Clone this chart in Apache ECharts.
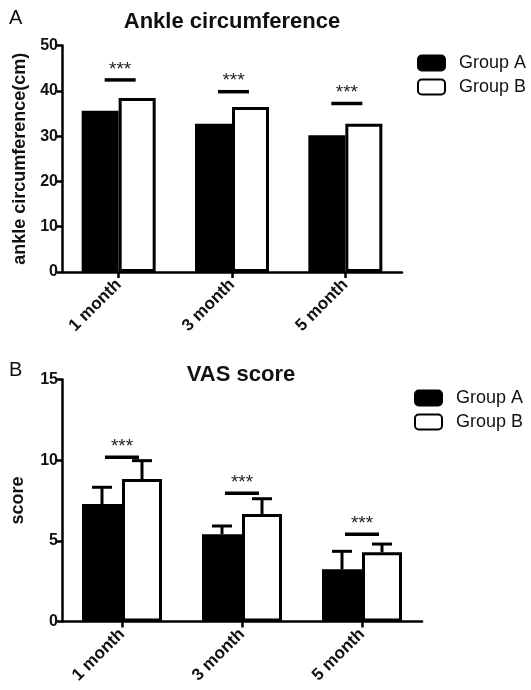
<!DOCTYPE html>
<html><head><meta charset="utf-8">
<script src="https://cdn.jsdelivr.net/npm/echarts@6/dist/echarts.min.js"></script>
<style>html,body{margin:0;padding:0;background:#fff}#c{width:531px;height:690px}</style>
</head><body><div id="c"></div>
<script>
// ---- data ----
const categories = ['1 month', '3 month', '5 month'];
const seriesNames = ['Group A', 'Group B'];
// Panel A: ankle circumference (cm)
const ankleA = [35.6, 32.7, 30.2];
const ankleB = [38.4, 36.4, 32.7];
const ankleSig = [42.4, 39.8, 37.2];      // height of significance bars
const ankleYTicks = [0, 10, 20, 30, 40, 50];
// Panel B: VAS score
const vasA = [7.28, 5.41, 3.24];
const vasB = [8.83, 6.66, 4.29];
const vasAErr = [1.04, 0.51, 1.11];
const vasBErr = [1.14, 0.95, 0.51];
const vasSig = [10.18, 7.95, 5.41];
const vasYTicks = [0, 5, 10, 15];
const sigLabel = '***';

// ---- style ----
const F = '"Liberation Sans", Arial, Helvetica, sans-serif';
const INK = '#111';
const topBarW = 37, botBarW = 40;

function errRender(offset, cap) {
  return function (params, api) {
    const x = api.value(0), v = api.value(1), e = api.value(2);
    const p0 = api.coord([x, v]);
    const p1 = api.coord([x, v + e]);
    const cx = p0[0] + offset;
    return {
      type: 'group', children: [
        { type: 'line', shape: { x1: cx, y1: p0[1], x2: cx, y2: p1[1] }, style: { stroke: '#000', lineWidth: 3 } },
        { type: 'line', shape: { x1: cx - cap / 2, y1: p1[1], x2: cx + cap / 2, y2: p1[1] }, style: { stroke: '#000', lineWidth: 3 } }
      ]
    };
  };
}
function sigRender(l, r) {
  return function (params, api) {
    const p = api.coord([api.value(0), api.value(1)]);
    const mid = p[0] + (l + r) / 2;
    return {
      type: 'group', children: [
        { type: 'line', shape: { x1: p[0] + l, y1: p[1], x2: p[0] + r, y2: p[1] }, style: { stroke: '#000', lineWidth: 3.5 } },
        { type: 'text', x: mid, y: p[1] - 1, style: { text: sigLabel, fill: '#222', font: '19px ' + F, align: 'center', verticalAlign: 'bottom' } }
      ]
    };
  };
}
const idx = a => a.map((v, i) => [i, v]);
const idxErr = (a, e) => a.map((v, i) => [i, v, e[i]]);

function yAxisCfg(ticks, name, gap, gridIndex) {
  return {
    type: 'value', gridIndex, min: ticks[0], max: ticks[ticks.length - 1],
    interval: ticks[1] - ticks[0],
    name, nameLocation: 'middle', nameGap: gap,
    nameTextStyle: { fontFamily: F, fontWeight: 'bold', fontSize: 18, color: INK },
    axisLine: { show: true, lineStyle: { color: '#000', width: 2.5 } },
    axisTick: { show: true, length: 5, lineStyle: { color: '#000', width: 2.5 } },
    axisLabel: { fontFamily: F, fontWeight: 'bold', fontSize: 16, color: INK, margin: 4 },
    splitLine: { show: false }
  };
}
function xAxisCfg(gridIndex) {
  return {
    type: 'category', gridIndex, data: categories,
    axisLine: { show: true, lineStyle: { color: '#000', width: 2.5 } },
    axisTick: { show: true, alignWithLabel: true, length: 6, lineStyle: { color: '#000', width: 2.5 } },
    axisLabel: { interval: 0, rotate: 45, fontFamily: F, fontWeight: 'bold', fontSize: 17, color: INK, margin: 10 }
  };
}
function legendCfg(left, top) {
  return {
    orient: 'vertical', left, top, padding: 0, itemGap: 6,
    itemWidth: 27, itemHeight: 15, icon: 'roundRect',
    data: seriesNames,
    textStyle: { fontFamily: F, fontSize: 18, color: INK, padding: [0, 0, 0, 9] }
  };
}

const option = {
  animation: false,
  backgroundColor: '#fff',
  title: [
    { text: 'A', left: 9, top: 8, padding: 0, textStyle: { fontFamily: F, fontWeight: 'normal', fontSize: 20, color: INK } },
    { text: 'Ankle circumference', left: 232, textAlign: 'center', top: 11, padding: 0, textStyle: { fontFamily: F, fontWeight: 'bold', fontSize: 22, color: INK } },
    { text: 'B', left: 9, top: 360, padding: 0, textStyle: { fontFamily: F, fontWeight: 'normal', fontSize: 20, color: INK } },
    { text: 'VAS score', left: 241, textAlign: 'center', top: 364, padding: 0, textStyle: { fontFamily: F, fontWeight: 'bold', fontSize: 22, color: INK } }
  ],
  legend: [legendCfg(417, 54), legendCfg(414, 389)],
  grid: [
    { left: 62, top: 45.5, width: 340, height: 226.5 },
    { left: 62, top: 379.5, width: 360, height: 242 }
  ],
  xAxis: [xAxisCfg(0), xAxisCfg(1)],
  yAxis: [yAxisCfg(ankleYTicks, 'ankle circumference(cm)', 32, 0), yAxisCfg(vasYTicks, 'score', 35, 1)],
  series: [
    { name: 'Group A', type: 'bar', xAxisIndex: 0, yAxisIndex: 0, data: ankleA, barWidth: topBarW, barGap: '0%',
      itemStyle: { color: '#000', borderColor: '#000', borderWidth: 3 } },
    { name: 'Group B', type: 'bar', xAxisIndex: 0, yAxisIndex: 0, data: ankleB, barWidth: topBarW, barGap: '0%',
      itemStyle: { color: '#fff', borderColor: '#000', borderWidth: 3 } },
    { type: 'custom', xAxisIndex: 0, yAxisIndex: 0, data: idx(ankleSig), renderItem: sigRender(-14, 17), z: 5, encode: { x: 0, y: 1 } },

    { name: 'Group A', type: 'bar', xAxisIndex: 1, yAxisIndex: 1, data: vasA, barWidth: botBarW, barGap: '0%',
      itemStyle: { color: '#000', borderColor: '#000', borderWidth: 3 } },
    { name: 'Group B', type: 'bar', xAxisIndex: 1, yAxisIndex: 1, data: vasB, barWidth: botBarW, barGap: '0%',
      itemStyle: { color: '#fff', borderColor: '#000', borderWidth: 3 } },
    { type: 'custom', xAxisIndex: 1, yAxisIndex: 1, data: idxErr(vasA, vasAErr), renderItem: errRender(-botBarW / 2, 20), z: 4, encode: { x: 0, y: 1 } },
    { type: 'custom', xAxisIndex: 1, yAxisIndex: 1, data: idxErr(vasB, vasBErr), renderItem: errRender(botBarW / 2, 20), z: 4, encode: { x: 0, y: 1 } },
    { type: 'custom', xAxisIndex: 1, yAxisIndex: 1, data: idx(vasSig), renderItem: sigRender(-17, 17), z: 5, encode: { x: 0, y: 1 } }
  ]
};
const chart = echarts.init(document.getElementById('c'), null, { renderer: 'canvas' });
chart.setOption(option);
</script>
</body></html>
